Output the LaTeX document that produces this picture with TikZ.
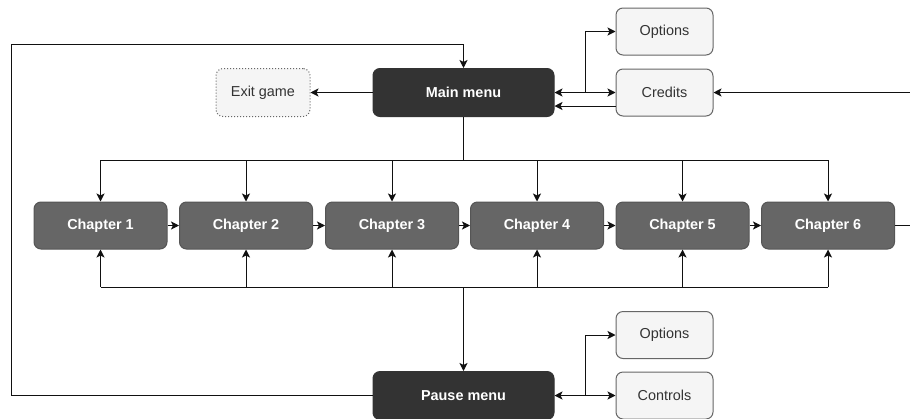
\documentclass[tikz,border=0pt]{standalone}
\usepackage{fontspec}
\setmainfont{Liberation Sans}
\usetikzlibrary{arrows.meta}
\definecolor{darkbox}{HTML}{333333}
\definecolor{chapfill}{HTML}{666666}
\definecolor{chapline}{HTML}{555555}
\definecolor{lightfill}{HTML}{F5F5F5}
\definecolor{lightline}{HTML}{666666}
\definecolor{lighttext}{HTML}{333333}
\definecolor{wire}{HTML}{111111}
\begin{document}
\begin{tikzpicture}[x=1pt,y=1pt,
  base/.style={rounded corners=7pt, line width=1pt, font=\fontsize{14.4}{17}\selectfont, inner sep=0pt},
  menubox/.style={base, draw=darkbox, fill=darkbox, text=white, font=\fontsize{14.4}{17}\selectfont\bfseries, minimum width=181pt, minimum height=48pt},
  chapbox/.style={base, draw=chapline, fill=chapfill, text=white, font=\fontsize{14.4}{17}\selectfont\bfseries, minimum width=133pt, minimum height=47pt},
  subbox/.style={base, draw=lightline, fill=lightfill, text=lighttext, minimum width=97pt, minimum height=47pt},
  exitbox/.style={base, draw=lightline, dotted, fill=lightfill, text=lighttext, minimum width=94pt, minimum height=48pt},
  wire/.style={draw=wire, line width=1pt},
  arr/.style={wire, -{Stealth[length=8pt,width=8pt,inset=2pt]}},
  darr/.style={wire, {Stealth[length=8pt,width=8pt,inset=2pt]}-{Stealth[length=8pt,width=8pt,inset=2pt]}}
]
\useasboundingbox (0,0) rectangle (910,-418);
\clip (0,0) rectangle (910,-418);

\node[menubox] (main) at (463.5,-92.5) {Main menu};
\node[subbox] (opt1) at (664.5,-31.5) {Options};
\node[subbox] (cred) at (664.5,-92.5) {Credits};
\node[exitbox] (exit) at (263,-92.5) {Exit game};

\node[chapbox] (ch1) at (100.5,-225.5) {Chapter 1};
\node[chapbox] (ch2) at (246,-225.5) {Chapter 2};
\node[chapbox] (ch3) at (392,-225.5) {Chapter 3};
\node[chapbox] (ch4) at (537,-225.5) {Chapter 4};
\node[chapbox] (ch5) at (682.5,-225.5) {Chapter 5};
\node[chapbox] (ch6) at (828,-225.5) {Chapter 6};

\node[menubox] (pause) at (463.5,-395.5) {Pause menu};
\node[subbox] (opt2) at (664.5,-335) {Options};
\node[subbox] (ctrl) at (664.5,-395.5) {Controls};

% main menu links
\draw[arr] (main.west) -- (exit.east);
\draw[darr] (main.east) -- (cred.west);
\coordinate (b1) at (585,-92.5);
\draw[arr] (b1) |- (opt1.west);
\draw[arr] ([yshift=-13.5pt]cred.west) -- ([yshift=-13.5pt]main.east);
\coordinate (rc) at (940,-225.5);
\draw[arr] (ch6.east) -- (rc) |- (cred.east);

% top bus
\coordinate (tb) at (463.5,-160);
\draw[wire] (main.south) -- (tb);
\draw[wire] (ch1.north |- tb) -- (ch6.north |- tb);
\foreach \c in {ch1,ch2,ch3,ch4,ch5,ch6} {
  \draw[arr] (\c.north |- tb) -- (\c.north);
}

% chapter chain
\draw[arr] (ch1.east) -- (ch2.west);
\draw[arr] (ch2.east) -- (ch3.west);
\draw[arr] (ch3.east) -- (ch4.west);
\draw[arr] (ch4.east) -- (ch5.west);
\draw[arr] (ch5.east) -- (ch6.west);

% bottom bus
\coordinate (bb) at (463.5,-287);
\draw[wire] (ch1.south |- bb) -- (ch6.south |- bb);
\foreach \c in {ch1,ch2,ch3,ch4,ch5,ch6} {
  \draw[arr] (\c.south |- bb) -- (\c.south);
}
\draw[arr] (bb) -- (pause.north);

% pause menu links
\draw[darr] (pause.east) -- (ctrl.west);
\coordinate (b2) at (585,-395.5);
\draw[arr] (b2) |- (opt2.west);
\coordinate (lc) at (11,-44);
\draw[arr] (pause.west) -| (lc) -| (main.north);
\end{tikzpicture}
\end{document}
